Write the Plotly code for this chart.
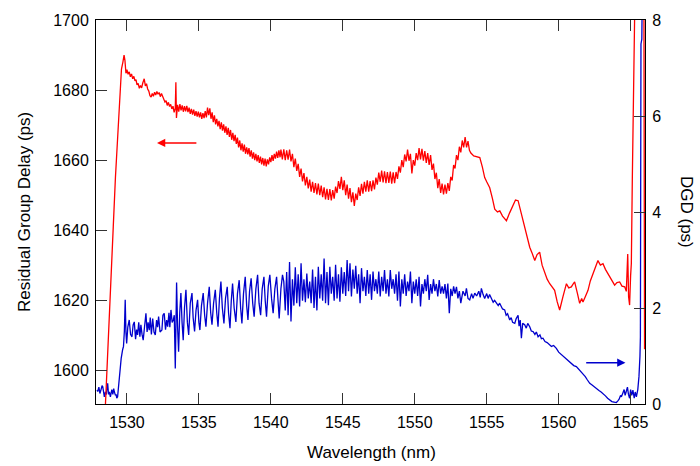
import plotly.graph_objects as go

# ---------------- data ----------------
# Residual group delay (ps) vs wavelength (nm), left axis
red_rise = [(1528.45,1585),(1528.6,1598),(1528.75,1612),(1528.9,1625),(1529.05,1641),(1529.2,1655),
            (1529.35,1667),(1529.5,1679),(1529.62,1686),(1529.72,1688),(1529.8,1690),(1529.86,1688.5)]

red_slope = [
 (1529.93,1684.8),(1530.0,1685.8),(1530.08,1684.5),(1530.16,1685.2),(1530.24,1683.8),(1530.32,1684.6),(1530.4,1683.2),(1530.48,1683.9),(1530.56,1682.6),(1530.63,1683.0),
 (1530.7,1681.5),(1530.78,1681.9),(1530.86,1680.5),(1530.94,1681.3),(1531.02,1680.6),(1531.1,1682.0),(1531.2,1683.2),(1531.28,1681.2),(1531.36,1681.8),(1531.44,1680.3),
 (1531.52,1679.7),(1531.6,1678.4),(1531.68,1678.0),(1531.76,1679.0),(1531.84,1678.2),(1531.92,1679.4),(1532.0,1678.6),(1532.08,1679.6),(1532.16,1678.8),(1532.24,1679.3),
 (1532.32,1678.1),(1532.4,1679.0),(1532.48,1678.3),(1532.56,1677.5),(1532.64,1676.6),(1532.72,1677.0),(1532.8,1675.6),(1532.88,1676.5),(1532.96,1675.3),(1533.04,1675.9),
 (1533.12,1674.6),(1533.2,1675.4),(1533.28,1673.6),(1533.36,1674.8),(1533.4,1682.2),(1533.44,1672.0),(1533.52,1675.8),(1533.6,1673.8),(1533.68,1676.0),(1533.76,1674.2),
 (1533.84,1675.6),(1533.92,1673.8),(1534.0,1675.4),(1534.08,1673.9),(1534.16,1675.5),(1534.24,1673.7),(1534.32,1675.0),(1534.4,1673.2),(1534.48,1674.6),(1534.56,1673.0),
 (1534.64,1674.4),(1534.72,1672.6),(1534.8,1674.0),(1534.88,1672.4),(1534.96,1673.8),(1535.04,1672.2),(1535.12,1673.6),(1535.2,1671.8),(1535.28,1673.4),(1535.36,1672.0),
 (1535.44,1674.0),(1535.52,1672.2),(1535.6,1675.0),(1535.68,1672.8),(1535.76,1674.8),(1535.84,1671.8),(1535.92,1673.6),(1536.0,1670.8),(1536.08,1672.8),(1536.16,1670.2),
 (1536.24,1671.8),(1536.32,1669.6),(1536.4,1671.2),(1536.48,1668.8),(1536.56,1670.8),(1536.64,1668.4),(1536.72,1670.2),(1536.8,1667.8),(1536.88,1669.6),(1536.96,1667.2),
 (1537.04,1669.2),(1537.12,1666.6),(1537.2,1668.6),(1537.28,1665.8),(1537.36,1667.8),(1537.44,1665.4),(1537.52,1667.2),(1537.6,1664.6),(1537.68,1666.4),(1537.76,1663.6),
 (1537.84,1665.6),(1537.92,1662.8),(1538.0,1664.8),(1538.08,1662.4),(1538.16,1664.4),(1538.24,1661.8),(1538.32,1663.6),(1538.4,1661.6),(1538.48,1663.4),(1538.56,1661.0),
 (1538.64,1662.8),(1538.72,1660.4),(1538.8,1662.2),(1538.88,1660.0),(1538.96,1661.8),(1539.04,1659.6),(1539.12,1661.4),(1539.2,1659.2),(1539.28,1661.0),(1539.36,1658.8),
 (1539.44,1660.6),(1539.52,1658.4),(1539.6,1660.4),(1539.68,1658.2),(1539.76,1660.2),(1539.84,1658.8),(1539.92,1660.8),(1540.0,1659.4),(1540.08,1661.4),(1540.16,1659.8),
 (1540.24,1661.8),(1540.32,1660.4),(1540.4,1662.4),(1540.48,1660.6),(1540.56,1662.8),(1540.64,1660.8)]

red_mid = [
 (1540.7,1663.0),(1540.8,1660.2),(1540.9,1663.1),(1541.0,1660.0),(1541.1,1662.8),(1541.2,1660.1),(1541.3,1663.0),(1541.4,1659.6),(1541.5,1661.8),(1541.6,1658.0),
 (1541.7,1660.4),(1541.8,1656.9),(1541.9,1658.9),(1542.0,1655.2),(1542.1,1657.6),(1542.2,1653.9),(1542.3,1656.3),(1542.4,1652.8),(1542.5,1655.2),(1542.6,1651.9),
 (1542.7,1654.4),(1542.8,1651.0),(1542.9,1653.8),(1543.0,1650.6),(1543.1,1653.4),(1543.2,1650.2),(1543.3,1653.3),(1543.4,1650.0),(1543.5,1652.7),(1543.6,1649.4),
 (1543.7,1652.2),(1543.8,1648.8),(1543.9,1651.8),(1544.0,1648.6),(1544.1,1651.7),(1544.2,1648.5),(1544.3,1651.4),(1544.4,1649.0),(1544.5,1652.4),(1544.6,1650.6),
 (1544.7,1654.0),(1544.8,1651.8),(1544.9,1655.2),(1545.0,1651.4),(1545.1,1654.2),(1545.2,1650.0),(1545.3,1653.0),(1545.4,1649.0),(1545.5,1652.0),(1545.6,1648.0),
 (1545.7,1650.8),(1545.8,1646.9),(1545.9,1650.4),(1546.0,1648.6),(1546.1,1652.2),(1546.2,1649.8),(1546.3,1653.2),(1546.4,1650.4),(1546.5,1653.8),(1546.6,1651.0),
 (1546.7,1654.2),(1546.8,1651.0),(1546.9,1654.0),(1547.0,1651.1),(1547.1,1654.2),(1547.2,1651.6),(1547.3,1655.0),(1547.4,1653.0),(1547.5,1656.4),(1547.6,1653.8),
 (1547.7,1657.0),(1547.8,1653.6),(1547.9,1656.8),(1548.0,1653.4),(1548.1,1656.6),(1548.2,1653.5),(1548.3,1656.7),(1548.4,1653.3),(1548.5,1656.5),(1548.6,1653.4),
 (1548.7,1656.6),(1548.8,1654.6),(1548.9,1658.2),(1549.0,1656.4),(1549.1,1660.0),(1549.2,1658.0),(1549.3,1661.6),(1549.4,1659.6),(1549.5,1663.0),(1549.6,1659.8),
 (1549.7,1661.8),(1549.8,1656.2),(1549.9,1660.0),(1550.0,1658.4),(1550.1,1662.0),(1550.2,1660.0),(1550.3,1663.4),(1550.4,1660.2),(1550.5,1663.2),(1550.6,1659.8),
 (1550.7,1662.6),(1550.8,1659.2),(1550.9,1662.0),(1551.0,1658.6),(1551.1,1661.4),(1551.2,1657.2),(1551.3,1659.0),(1551.4,1654.6),(1551.5,1656.4),(1551.6,1652.0),
 (1551.7,1654.6),(1551.8,1650.6),(1551.9,1653.3),(1552.0,1650.2),(1552.1,1653.0),(1552.2,1650.4),(1552.3,1653.4),(1552.4,1651.2),(1552.5,1655.2),(1552.6,1654.2),
 (1552.7,1658.6),(1552.8,1657.6),(1552.9,1661.4),(1553.0,1660.0),(1553.1,1663.8),(1553.2,1662.2),(1553.3,1665.6),(1553.4,1663.6),(1553.5,1666.6),(1553.6,1663.6),
 (1553.7,1665.4),(1553.8,1662.8)]

red_tail = [
 (1553.9,1662.0),(1554.1,1661.2),(1554.3,1661.0),(1554.52,1660.7),(1554.7,1658.0),(1554.86,1655.0),(1555.0,1653.8),(1555.21,1652.1),(1555.4,1649.0),(1555.56,1646.0),
 (1555.75,1645.2),(1555.91,1645.5),(1556.1,1644.0),(1556.37,1642.7),(1556.6,1645.0),(1556.83,1647.4),(1557.0,1648.6),(1557.18,1648.4),(1557.3,1646.5),(1557.41,1644.6),
 (1557.64,1640.8),(1557.8,1638.0),(1557.99,1635.1),(1558.15,1633.5),(1558.34,1631.3),(1558.5,1633.0),(1558.68,1633.7),(1558.85,1630.0),(1559.03,1627.6),(1559.2,1626.0),
 (1559.38,1624.7),(1559.55,1623.8),(1559.72,1622.8),(1559.9,1619.5),(1560.07,1617.2),(1560.3,1621.0),(1560.54,1624.7),(1560.7,1623.5),(1560.88,1623.8),(1561.0,1624.6),
 (1561.11,1625.2),(1561.3,1622.0),(1561.46,1619.1),(1561.6,1620.5),(1561.69,1619.5),(1561.85,1621.0),(1562.04,1622.8),(1562.2,1625.5),(1562.39,1627.6),(1562.55,1629.5),
 (1562.73,1631.3),(1562.9,1630.0),(1563.08,1630.4),(1563.25,1628.8),(1563.43,1627.6),(1563.65,1625.8),(1563.89,1624.3),(1564.05,1625.0),(1564.24,1625.2),(1564.4,1624.0),
 (1564.59,1623.8),(1564.7,1622.5),(1564.8,1633.2),(1564.86,1621.0),(1564.93,1618.6),(1565.0,1627.0),(1565.05,1630.4),(1565.12,1655.0),(1565.2,1671.0),(1565.3,1700.5),
 (1565.38,1730.0),(1565.9,1760.0),(1565.97,1606.0)]

# DGD (ps) vs wavelength (nm), right axis
blue_start = [
 (1527.92,0.29),(1527.97,0.26),(1528.05,0.35),(1528.12,0.22),(1528.2,0.30),(1528.27,0.38),(1528.32,0.36),(1528.38,0.20),(1528.43,0.15),(1528.5,0.25),
 (1528.57,0.20),(1528.62,0.35),(1528.66,0.43),(1528.72,0.20),(1528.78,0.25),(1528.85,0.15),(1528.89,0.19),(1528.95,0.30),(1529.02,0.20),(1529.08,0.32),
 (1529.12,0.26),(1529.2,0.18),(1529.25,0.20),(1529.29,0.12),(1529.35,0.15),(1529.4,0.30),(1529.43,0.40),(1529.48,0.60),(1529.52,0.78),(1529.6,0.95),
 (1529.7,1.13),(1529.76,1.20),(1529.82,1.51),(1529.88,2.17),(1529.93,1.50),(1529.98,1.26),(1530.06,1.60),(1530.16,1.75),(1530.25,1.45),(1530.35,1.40),
 (1530.43,1.65),(1530.51,1.71),(1530.6,1.35),(1530.67,1.55),(1530.74,1.44),(1530.82,1.70),(1530.9,1.40),(1530.97,1.65),(1531.05,1.45),(1531.13,1.33),
 (1531.22,1.60),(1531.32,1.89),(1531.4,1.50),(1531.47,1.70),(1531.55,1.54),(1531.62,1.80),(1531.7,1.45),(1531.79,1.78),(1531.88,1.50),(1531.97,1.44),
 (1532.06,1.75),(1532.13,1.60),(1532.2,1.82),(1532.3,1.50),(1532.43,1.54),(1532.5,1.85),(1532.59,1.89),(1532.68,1.55),(1532.76,1.75),(1532.83,1.61),
 (1532.92,1.90),(1532.98,1.60),(1533.06,1.96),(1533.14,1.70),(1533.22,1.75),(1533.29,1.85),(1533.36,0.74),(1533.45,2.53),(1533.52,1.60),(1533.59,1.09),
 (1533.67,1.90),(1533.75,2.31),(1533.83,1.70),(1533.91,1.33),(1534.0,2.00),(1534.1,2.38),(1534.2,1.70),(1534.29,1.44),(1534.4,2.10),(1534.52,2.31),
 (1534.6,1.80),(1534.7,1.51),(1534.8,1.95),(1534.91,2.17),(1535.0,1.70),(1535.07,1.54),(1535.18,2.05),(1535.3,2.31),(1535.4,1.85),(1535.49,1.61),
 (1535.6,2.10),(1535.72,2.44),(1535.82,1.90),(1535.91,1.65),(1536.02,2.10),(1536.14,2.38),(1536.24,1.90),(1536.33,1.61),(1536.43,2.20),(1536.53,2.55),
 (1536.63,2.00),(1536.74,1.68),(1536.85,2.20),(1536.97,2.44),(1537.06,1.90),(1537.16,1.58),(1537.25,2.15),(1537.34,2.51),(1537.45,2.00),(1537.57,1.71),
 (1537.68,2.30),(1537.8,2.58),(1537.9,2.00),(1537.99,1.68),(1538.1,2.30),(1538.22,2.65),(1538.32,2.05),(1538.41,1.75),(1538.52,2.35),(1538.63,2.62),
 (1538.74,2.10),(1538.84,1.82),(1538.96,2.40),(1539.08,2.69),(1539.18,2.10),(1539.29,1.85),(1539.4,2.40),(1539.52,2.65),(1539.61,2.15),(1539.7,1.82),
 (1539.82,2.45),(1539.93,2.69),(1540.05,2.20),(1540.16,1.89),(1540.28,2.40),(1540.4,2.65),(1540.5,2.15),(1540.58,1.78),(1540.7,2.40),(1540.81,2.69)]

blue_band = [
 (1540.9,2.55),(1541.0,1.95),(1541.1,2.75),(1541.2,1.85),(1541.3,2.96),(1541.4,1.72),(1541.5,2.60),(1541.6,2.05),(1541.7,2.85),(1541.8,2.10),
 (1541.9,2.70),(1542.0,2.03),(1542.1,2.93),(1542.2,2.15),(1542.3,2.60),(1542.4,2.12),(1542.5,2.72),(1542.6,2.20),(1542.7,2.55),(1542.8,2.10),
 (1542.9,2.80),(1543.0,2.00),(1543.1,2.65),(1543.2,1.95),(1543.3,2.86),(1543.4,2.20),(1543.5,2.70),(1543.6,2.15),(1543.7,3.03),(1543.8,2.10),
 (1543.9,2.75),(1544.0,2.06),(1544.1,2.86),(1544.2,2.30),(1544.3,2.65),(1544.4,2.15),(1544.5,2.90),(1544.6,2.20),(1544.7,2.70),(1544.8,2.13),
 (1544.9,2.85),(1545.0,2.30),(1545.1,2.75),(1545.2,2.25),(1545.3,3.00),(1545.4,2.35),(1545.5,2.93),(1545.6,2.24),(1545.7,2.80),(1545.8,2.40),
 (1545.9,2.88),(1546.0,2.30),(1546.1,2.70),(1546.2,2.10),(1546.3,2.83),(1546.4,2.35),(1546.5,2.65),(1546.6,2.25),(1546.7,2.79),(1546.8,2.30),
 (1546.9,2.70),(1547.0,2.17),(1547.1,2.76),(1547.2,2.35),(1547.3,2.60),(1547.4,2.30),(1547.5,2.76),(1547.6,2.24),(1547.7,2.65),(1547.8,2.35),
 (1547.9,2.79),(1548.0,2.30),(1548.1,2.60),(1548.2,2.24),(1548.3,2.79),(1548.4,2.40),(1548.5,2.60),(1548.6,2.30),(1548.7,2.70),(1548.8,2.15),
 (1548.9,2.76),(1549.0,2.03),(1549.1,2.60),(1549.2,2.30),(1549.3,2.70),(1549.4,2.25),(1549.5,2.55),(1549.6,2.35),(1549.7,2.76),(1549.8,2.10),
 (1549.9,2.55),(1550.0,2.30),(1550.1,2.60),(1550.2,2.25),(1550.3,2.65),(1550.4,2.03),(1550.5,2.50),(1550.6,2.30),(1550.7,2.60),(1550.8,2.35),
 (1550.9,2.69),(1551.0,2.17),(1551.1,2.50),(1551.2,2.30),(1551.3,2.60),(1551.4,2.35),(1551.5,2.50),(1551.6,2.24),(1551.7,2.58),(1551.8,2.30),
 (1551.9,2.45),(1552.0,2.30),(1552.1,2.50),(1552.2,2.20),(1552.3,2.51),(1552.4,1.89),(1552.5,2.40),(1552.6,2.25),(1552.7,2.45),(1552.8,2.30),
 (1552.9,2.44),(1553.0,2.20),(1553.1,2.35)]

blue_tail = [
 (1553.2,2.10),(1553.35,2.35),(1553.5,2.25),(1553.59,2.41),(1553.7,2.20),(1553.82,2.17),(1553.95,2.30),(1554.05,2.20),(1554.17,2.31),(1554.3,2.25),
 (1554.45,2.35),(1554.55,2.22),(1554.63,2.41),(1554.75,2.28),(1554.86,2.20),(1555.0,2.30),(1555.1,2.20),(1555.2,2.28),(1555.33,2.20),(1555.45,2.12),
 (1555.55,2.16),(1555.68,2.10),(1555.8,2.05),(1555.9,2.10),(1556.02,2.03),(1556.1,1.98),(1556.25,1.96),(1556.35,1.85),(1556.45,1.88),(1556.6,1.75),
 (1556.7,1.80),(1556.8,1.70),(1556.95,1.68),(1557.05,1.78),(1557.18,1.85),(1557.25,1.62),(1557.33,1.75),(1557.41,1.37),(1557.5,1.68),(1557.64,1.65),
 (1557.75,1.58),(1557.85,1.68),(1557.99,1.61),(1558.1,1.52),(1558.22,1.51),(1558.35,1.45),(1558.45,1.50),(1558.57,1.40),(1558.7,1.44),(1558.8,1.36),
 (1558.91,1.37),(1559.05,1.30),(1559.2,1.28),(1559.38,1.23),(1559.5,1.20),(1559.65,1.22),(1559.84,1.16),(1560.0,1.08),(1560.15,1.04),(1560.3,0.99),
 (1560.45,0.97),(1560.6,0.92),(1560.77,0.88),(1560.9,0.85),(1561.05,0.80),(1561.23,0.78),(1561.4,0.72),(1561.55,0.68),(1561.69,0.64),(1561.85,0.57),
 (1562.0,0.50),(1562.16,0.43),(1562.3,0.40),(1562.45,0.36),(1562.62,0.33),(1562.8,0.28),(1562.95,0.25),(1563.08,0.22),(1563.25,0.17),(1563.4,0.12),
 (1563.55,0.08),(1563.7,0.05),(1563.85,0.04),(1564.01,0.03),(1564.1,0.06),(1564.2,0.10),(1564.3,0.18),(1564.36,0.15),(1564.45,0.22),(1564.55,0.30),
 (1564.62,0.18),(1564.7,0.26),(1564.78,0.35),(1564.85,0.20),(1564.93,0.12),(1565.0,0.30),(1565.08,0.18),(1565.16,0.29),(1565.25,0.12),(1565.32,0.25),
 (1565.4,0.15),(1565.5,0.30),(1565.58,0.57),(1565.65,1.00),(1565.68,1.40),(1565.72,7.50),(1565.78,7.60),(1565.81,8.60)]

x_ticks = [1530, 1535, 1540, 1545, 1550, 1555, 1560, 1565]
gd_ticks = [1600, 1620, 1640, 1660, 1680, 1700]
dgd_ticks = [0, 2, 4, 6, 8]

x_title = "Wavelength (nm)"
gd_title = "Residual Group Delay (ps)"
dgd_title = "DGD (ps)"

# arrows: (tail wavelength, head wavelength, level)
red_arrow = (1534.93, 1532.09, 1664.9)
blue_arrow = (1561.81, 1564.64, 0.86)

# ---------------- figure ----------------
red = red_rise + red_slope + red_mid + red_tail
blue = blue_start + blue_band + blue_tail

RED = "#FF0000"
BLUE = "#0000CC"
FONT = "Liberation Sans, Arial, sans-serif"

fig = go.Figure()
fig.add_trace(go.Scatter(x=[p[0] for p in blue], y=[p[1] for p in blue], mode="lines",
                         line=dict(color=BLUE, width=1.3), yaxis="y", cliponaxis=True))
fig.add_trace(go.Scatter(x=[p[0] for p in red], y=[p[1] for p in red], mode="lines",
                         line=dict(color=RED, width=1.3), yaxis="y2", cliponaxis=True))

axis_common = dict(showgrid=False, zeroline=False, showline=True, linecolor="black", linewidth=1,
                   ticks="inside", ticklen=11, tickwidth=1, tickcolor="#333",
                   tickfont=dict(family=FONT, size=16, color="black"))

fig.update_layout(
    width=700, height=466,
    margin=dict(l=96, r=55, t=18, b=62, pad=0),
    paper_bgcolor="white", plot_bgcolor="white",
    showlegend=False,
    font=dict(family=FONT, size=16, color="black"),
    xaxis=dict(range=[1527.85, 1566.0], tickvals=x_ticks, mirror="ticks",
               ticklabelstandoff=4, **axis_common),
    yaxis=dict(range=[0, 8], tickvals=dgd_ticks, side="right", ticklabelstandoff=3, **axis_common),
    yaxis2=dict(range=[1590.35, 1700], tickvals=gd_ticks, side="left", overlaying="y",
                anchor="x", ticklabelstandoff=3, **axis_common),
    annotations=[
        dict(text=x_title, xref="paper", yref="paper", x=0.501, y=-0.127, showarrow=False,
             font=dict(family=FONT, size=17), xanchor="center", yanchor="middle"),
        dict(text=gd_title, xref="paper", yref="paper", x=-0.131, y=0.5, showarrow=False,
             textangle=-90, font=dict(family=FONT, size=17), xanchor="center", yanchor="middle"),
        dict(text=dgd_title, xref="paper", yref="paper", x=1.0765, y=0.5, showarrow=False,
             textangle=90, font=dict(family=FONT, size=17), xanchor="center", yanchor="middle"),
        dict(text="", x=red_arrow[1], y=red_arrow[2], xref="x", yref="y2",
             ax=red_arrow[0], ay=red_arrow[2], axref="x", ayref="y2",
             showarrow=True, arrowhead=2, arrowsize=1.1, arrowwidth=1.5, arrowcolor=RED),
        dict(text="", x=blue_arrow[1], y=blue_arrow[2], xref="x", yref="y",
             ax=blue_arrow[0], ay=blue_arrow[2], axref="x", ayref="y",
             showarrow=True, arrowhead=2, arrowsize=1.1, arrowwidth=1.5, arrowcolor=BLUE),
    ],
)

fig.write_html("out.html", config={"displayModeBar": False},
               post_script="document.body.style.margin='0px';document.body.style.padding='0px';")
